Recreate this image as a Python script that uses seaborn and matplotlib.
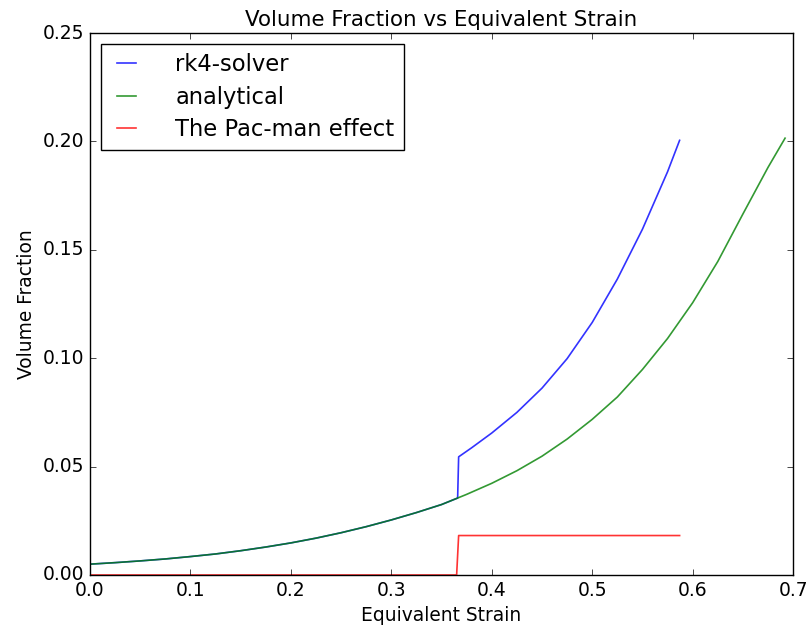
import pandas as pd
import matplotlib
matplotlib.use("Agg")
import matplotlib.pyplot as plt
import seaborn as sns

# =====================================
# Data
# =====================================

analytical_x = [0.0, 0.025, 0.05, 0.075, 0.1, 0.125, 0.15, 0.175, 0.2, 0.225,
                0.25, 0.275, 0.3, 0.325, 0.35, 0.366, 0.375, 0.4, 0.425, 0.45,
                0.475, 0.5, 0.525, 0.55, 0.575, 0.6, 0.625, 0.65, 0.675, 0.692]
analytical_y = [0.0050, 0.0057, 0.0065, 0.0074, 0.0085, 0.0097, 0.0112, 0.0129,
                0.0148, 0.0170, 0.0195, 0.0223, 0.0254, 0.0288, 0.0325, 0.0355,
                0.0372, 0.0423, 0.0481, 0.0548, 0.0627, 0.0718, 0.0821, 0.0948,
                0.1091, 0.1256, 0.1446, 0.1665, 0.1880, 0.2015]

rk4_x = [0.0, 0.025, 0.05, 0.075, 0.1, 0.125, 0.15, 0.175, 0.2, 0.225, 0.25,
         0.275, 0.3, 0.325, 0.35, 0.366, 0.367, 0.38, 0.4, 0.425, 0.45, 0.475,
         0.5, 0.525, 0.55, 0.575, 0.587]
rk4_y = [0.0050, 0.0057, 0.0065, 0.0074, 0.0085, 0.0097, 0.0112, 0.0129, 0.0148,
         0.0170, 0.0195, 0.0223, 0.0254, 0.0288, 0.0325, 0.0355, 0.0545, 0.0587,
         0.0655, 0.0750, 0.0862, 0.0998, 0.1165, 0.1365, 0.1595, 0.1860, 0.2005]

pacman_x = [0.0, 0.365, 0.367, 0.587]
pacman_y = [0.0, 0.0, 0.0182, 0.0182]

# =====================================
# Plot
# =====================================

plt.style.use("classic")
plt.rcParams["font.family"] = ["DejaVu Sans"]

fig = plt.figure(figsize=(8.06, 6.35), dpi=100, facecolor="white")
ax = fig.add_axes([0.1117, 0.0945, 0.8723, 0.8535])

rk4 = pd.DataFrame({"x": rk4_x, "y": rk4_y})
ana = pd.DataFrame({"x": analytical_x, "y": analytical_y})
pac = pd.DataFrame({"x": pacman_x, "y": pacman_y})

sns.lineplot(data=rk4, x="x", y="y", ax=ax, color="b", alpha=0.8,
             estimator=None, sort=False, label="rk4-solver", linewidth=1.2)
sns.lineplot(data=ana, x="x", y="y", ax=ax, color="g", alpha=0.8,
             estimator=None, sort=False, label="analytical", linewidth=1.2)
sns.lineplot(data=pac, x="x", y="y", ax=ax, color="r", alpha=0.8,
             estimator=None, sort=False, label="The Pac-man effect", linewidth=1.2)

ax.set_xlim(0, 0.7)
ax.set_ylim(0, 0.25)
ax.set_xticks([0.0, 0.1, 0.2, 0.3, 0.4, 0.5, 0.6, 0.7])
ax.set_yticks([0.0, 0.05, 0.10, 0.15, 0.20, 0.25])
ax.set_xticklabels(["0.0", "0.1", "0.2", "0.3", "0.4", "0.5", "0.6", "0.7"])
ax.set_yticklabels(["0.00", "0.05", "0.10", "0.15", "0.20", "0.25"])
ax.tick_params(labelsize=13.5)

ax.set_title("Volume Fraction vs Equivalent Strain", fontsize=15.4)
ax.set_xlabel("Equivalent Strain", fontsize=13.4)
ax.set_ylabel("Volume Fraction", fontsize=13.4)

ax.legend(loc="upper left", fontsize=16.3, handlelength=1.45,
          handletextpad=1.42, labelspacing=0.41)

fig.savefig("out.png", dpi=100, facecolor="white")
